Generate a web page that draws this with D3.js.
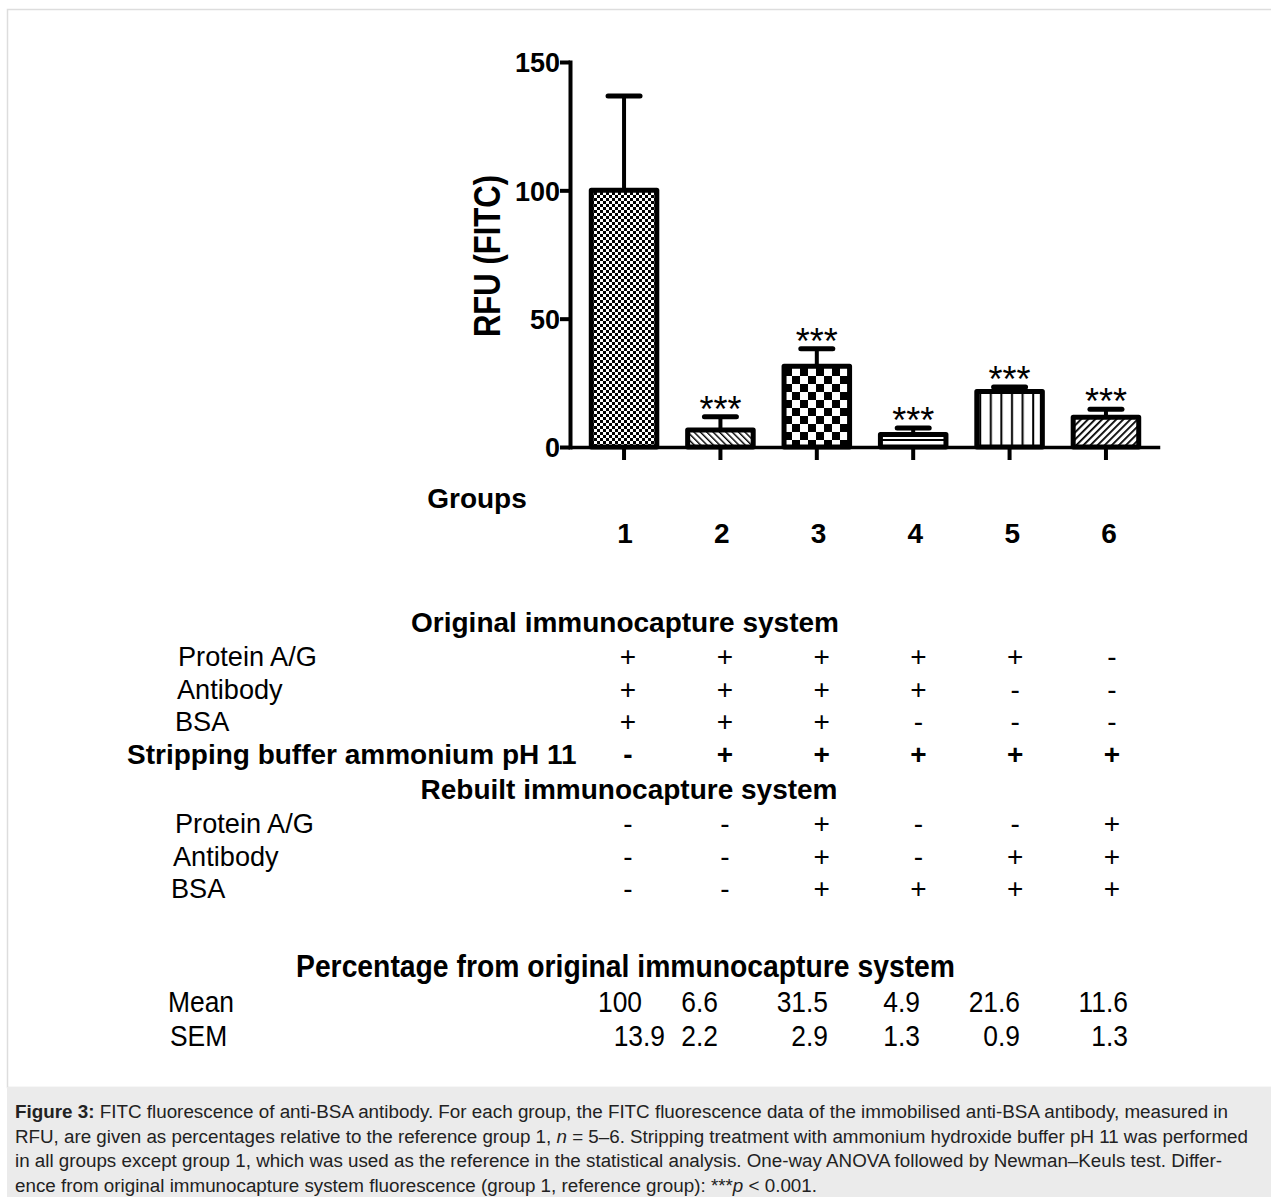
<!DOCTYPE html>
<html>
<head>
<meta charset="utf-8">
<script src="https://cdn.jsdelivr.net/npm/d3@7"></script>
<style>
body { margin: 0; background: #fff; }
svg text { font-family: Arial, "Liberation Sans", sans-serif; fill: #000; }
</style>
</head>
<body>
<svg class="chart" width="1271" height="1197"></svg>
<script>
/*global d3*/

// bar chart data (RFU, % of group 1)
var groups = ["1", "2", "3", "4", "5", "6"];
var meanRFU = [100, 6.6, 31.5, 4.9, 21.6, 11.6];
var errRFU = [36.8, 5.2, 6.8, 2.5, 1.8, 3.1];
var stars = ["", "***", "***", "***", "***", "***"];
var yTicks = [0, 50, 100, 150];
var barPatterns = ["checkFine", "hatchBack", "checkBig", "hLines", "vLines", "hatchFwd"];

// table under the chart
var origProteinAG = ["+", "+", "+", "+", "+", "-"];
var origAntibody  = ["+", "+", "+", "+", "-", "-"];
var origBSA       = ["+", "+", "+", "-", "-", "-"];
var strippingBuf  = ["-", "+", "+", "+", "+", "+"];
var rebProteinAG  = ["-", "-", "+", "-", "-", "+"];
var rebAntibody   = ["-", "-", "+", "-", "+", "+"];
var rebBSA        = ["-", "-", "+", "+", "+", "+"];
var pctMean = ["100", "6.6", "31.5", "4.9", "21.6", "11.6"];
var pctSEM  = ["13.9", "2.2", "2.9", "1.3", "0.9", "1.3"];

var captionLines = [
    [["Figure 3:", "bold"], [" FITC fluorescence of anti-BSA antibody. For each group, the FITC fluorescence data of the immobilised anti-BSA antibody, measured in", ""]],
    [["RFU, are given as percentages relative to the reference group 1, ", ""], ["n", "italic"], [" = 5\u20136. Stripping treatment with ammonium hydroxide buffer pH 11 was performed", ""]],
    [["in all groups except group 1, which was used as the reference in the statistical analysis. One-way ANOVA followed by Newman\u2013Keuls test. Differ-", ""]],
    [["ence from original immunocapture system fluorescence (group 1, reference group): ***", ""], ["p", "italic"], [" < 0.001.", ""]]
];
var captionWidths = [1213, 1233, 1207, 802];

var svg = d3.select(".chart");

// page frame + caption box
svg.append("rect").attr("x", 7.5).attr("y", 9.5).attr("width", 1280).attr("height", 1078)
    .attr("fill", "#fff").attr("stroke", "#ddd").attr("stroke-width", 1.5);
svg.append("rect").attr("x", 7).attr("y", 1087).attr("width", 1264).attr("height", 110)
    .attr("fill", "#ebebeb");

// patterns
var defs = svg.append("defs");
function pat(id, w, h, rot) {
    var p = defs.append("pattern").attr("id", id).attr("patternUnits", "userSpaceOnUse")
        .attr("width", w).attr("height", h);
    if (rot) p.attr("patternTransform", "rotate(" + rot + ")");
    p.append("rect").attr("width", w).attr("height", h).attr("fill", "#fff");
    return p;
}
var p1 = pat("checkFine", 6, 6);
p1.append("rect").attr("width", 3).attr("height", 3);
p1.append("rect").attr("x", 3).attr("y", 3).attr("width", 3).attr("height", 3);
var p3 = pat("checkBig", 16, 16);
p3.append("rect").attr("width", 8).attr("height", 8);
p3.append("rect").attr("x", 8).attr("y", 8).attr("width", 8).attr("height", 8);
pat("hatchBack", 4.5, 4.5, -45).append("rect").attr("width", 1.4).attr("height", 4.5);
pat("hatchFwd", 5, 5, 45).append("rect").attr("width", 1.8).attr("height", 5);
pat("hLines", 6, 6).append("rect").attr("y", 1).attr("width", 6).attr("height", 2);
pat("vLines", 10.6, 10).append("rect").attr("x", 4).attr("width", 2).attr("height", 10);

// scales
var xScale = d3.scaleBand().domain(groups).range([572, 1158])
    .paddingInner(0.32).paddingOuter(0.2);
var yScale = d3.scaleLinear().domain([0, 150]).range([447, 62]);

var data = groups.map(function (g, i) {
    return {g: g, mean: meanRFU[i], err: errRFU[i], star: stars[i], pattern: barPatterns[i]};
});

// bars
svg.append("g").selectAll("rect")
    .data(data)
    .enter()
    .append("rect")
    .attr("x", function (d) { return xScale(d.g); })
    .attr("y", function (d) { return yScale(d.mean); })
    .attr("width", xScale.bandwidth())
    .attr("height", function (d) { return yScale(0) - yScale(d.mean); })
    .attr("fill", function (d) { return "url(#" + d.pattern + ")"; })
    .attr("stroke", "#000")
    .attr("stroke-width", 5)
    .attr("stroke-linejoin", "round");

// error bars
var eb = svg.append("g").selectAll("g").data(data).enter().append("g");
eb.append("line")
    .attr("x1", function (d) { return xScale(d.g) + xScale.bandwidth() / 2; })
    .attr("x2", function (d) { return xScale(d.g) + xScale.bandwidth() / 2; })
    .attr("y1", function (d) { return yScale(d.mean); })
    .attr("y2", function (d) { return yScale(d.mean + d.err); })
    .attr("stroke", "#000").attr("stroke-width", 4);
eb.append("line")
    .attr("x1", function (d) { return xScale(d.g) + xScale.bandwidth() / 2 - 16; })
    .attr("x2", function (d) { return xScale(d.g) + xScale.bandwidth() / 2 + 16; })
    .attr("y1", function (d) { return yScale(d.mean + d.err); })
    .attr("y2", function (d) { return yScale(d.mean + d.err); })
    .attr("stroke", "#000").attr("stroke-width", 5).attr("stroke-linecap", "round");
eb.append("text")
    .attr("x", function (d) { return xScale(d.g) + xScale.bandwidth() / 2; })
    .attr("y", function (d) { return yScale(d.mean + d.err) + 5; })
    .attr("text-anchor", "middle")
    .style("font-size", "36px")
    .text(function (d) { return d.star; });

// axes
var yAxis = svg.append("g").attr("transform", "translate(570,0)")
    .call(d3.axisLeft(yScale).tickValues(yTicks).tickSize(10).tickSizeOuter(0).tickPadding(0));
var xAxis = svg.append("g").attr("transform", "translate(0," + yScale(0) + ")")
    .call(d3.axisBottom(xScale).tickSize(13).tickSizeOuter(0).tickFormat(""));
[yAxis, xAxis].forEach(function (a) {
    a.select(".domain").attr("stroke-width", 4).attr("stroke-linecap", "square");
    a.selectAll(".tick line").attr("stroke-width", 4);
});
xAxis.select(".domain").attr("stroke-width", 3.5);
yAxis.selectAll(".tick text")
    .style("font-size", "27px").style("font-weight", "bold").attr("dy", "0.36em");

svg.append("text")
    .attr("transform", "translate(500,256) rotate(-90) scale(0.84,1)")
    .attr("text-anchor", "middle")
    .style("font-size", "37px").style("font-weight", "bold")
    .text("RFU (FITC)");

// helper for plain text
function txt(x, y, s, size, weight, anchor, sx) {
    return svg.append("text")
        .attr("transform", "translate(" + x + "," + y + ") scale(" + (sx || 1) + ",1)")
        .attr("text-anchor", anchor || "start")
        .style("font-size", size + "px")
        .style("font-weight", weight || "normal")
        .text(s);
}

// table columns
var colX = d3.scalePoint().domain(groups).range([628, 1112]);

txt(477, 508, "Groups", 28, "bold", "middle");
groups.forEach(function (g) { txt(colX(g) - 3, 543, g, 28, "bold", "middle"); });

txt(625, 632, "Original immunocapture system", 28, "bold", "middle");
txt(629, 799, "Rebuilt immunocapture system", 28, "bold", "middle");

var tableRows = [
    {label: "Protein A/G", marks: origProteinAG, x: 178, y: 666, bold: false},
    {label: "Antibody", marks: origAntibody, x: 177, y: 699, bold: false},
    {label: "BSA", marks: origBSA, x: 175, y: 731, bold: false},
    {label: "Stripping buffer ammonium pH 11", marks: strippingBuf, x: 127, y: 764, bold: true},
    {label: "Protein A/G", marks: rebProteinAG, x: 175, y: 833, bold: false},
    {label: "Antibody", marks: rebAntibody, x: 173, y: 866, bold: false},
    {label: "BSA", marks: rebBSA, x: 171, y: 898, bold: false}
];
tableRows.forEach(function (r) {
    var w = r.bold ? "bold" : "normal";
    txt(r.x, r.y, r.label, 28, w, "start", r.bold ? 1 : 0.97);
    r.marks.forEach(function (m, i) {
        txt(colX(groups[i]), r.y, m, 28, w, "middle");
    });
});

svg.append("text")
    .attr("x", 296).attr("y", 977)
    .attr("textLength", 659).attr("lengthAdjust", "spacingAndGlyphs")
    .style("font-size", "31px").style("font-weight", "bold")
    .text("Percentage from original immunocapture system");

var meanRight = [642, 718, 828, 920, 1020, 1128];
var semRight = [665, 718, 828, 920, 1020, 1128];
txt(168, 1012, "Mean", 30, "normal", "start", 0.88);
txt(170, 1046, "SEM", 30, "normal", "start", 0.88);
pctMean.forEach(function (v, i) { txt(meanRight[i], 1012, v, 30, "normal", "end", 0.88); });
pctSEM.forEach(function (v, i) { txt(semRight[i], 1046, v, 30, "normal", "end", 0.88); });

// caption
captionLines.forEach(function (parts, i) {
    var t = svg.append("text")
        .attr("x", 15).attr("y", 1118 + i * 24.5)
        .style("font-size", "18px")
        .attr("textLength", captionWidths[i]).attr("lengthAdjust", "spacingAndGlyphs");
    parts.forEach(function (p) {
        var s = t.append("tspan").text(p[0]).style("fill", "#222");
        if (p[1] === "bold") s.style("font-weight", "bold");
        if (p[1] === "italic") s.style("font-style", "italic");
    });
});
</script>
</body>
</html>
